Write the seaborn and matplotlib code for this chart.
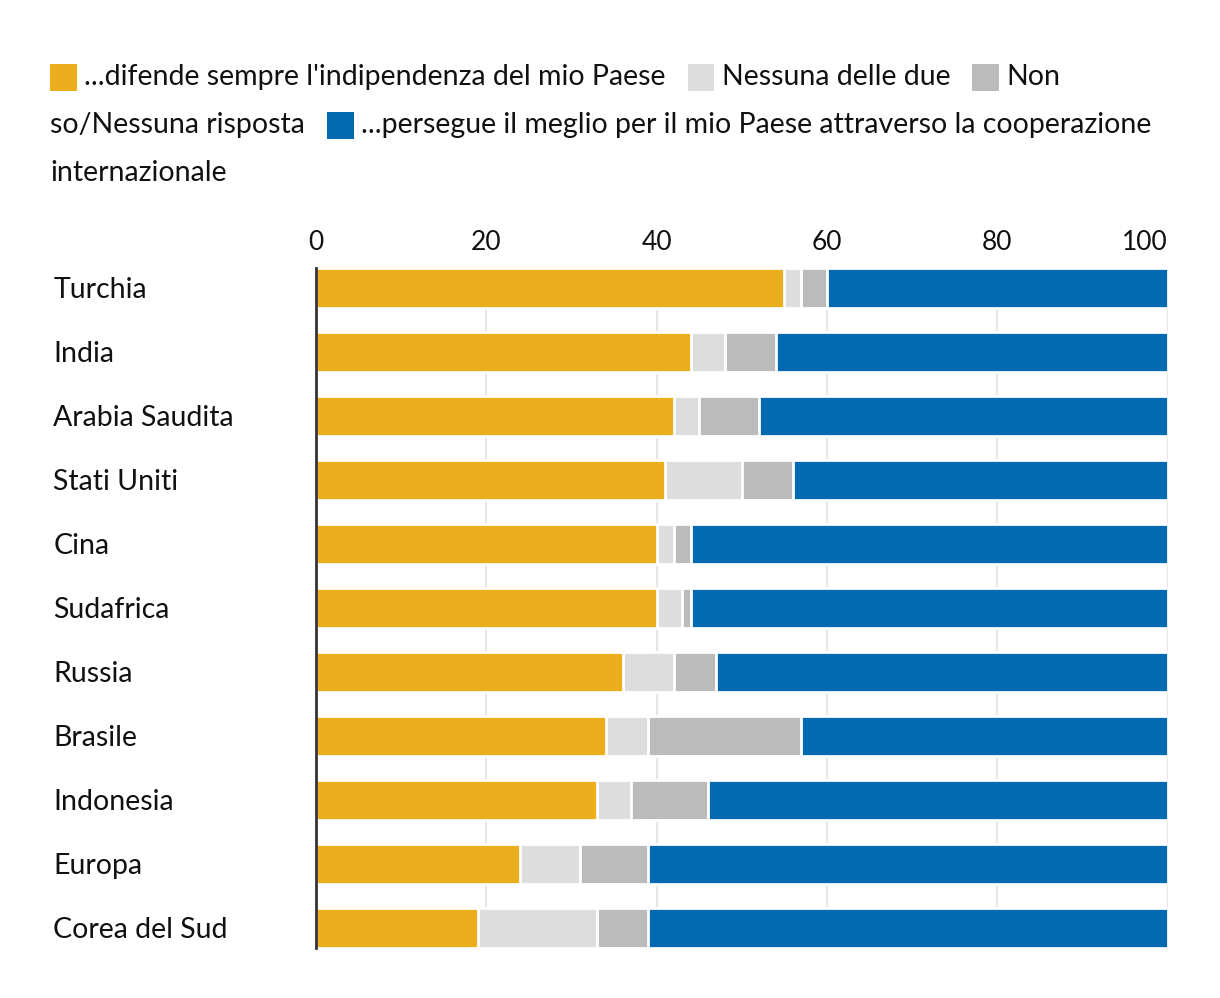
import numpy as np
import pandas as pd
import seaborn as sns
import matplotlib.pyplot as plt
from matplotlib.patches import Rectangle

countries = ["Turchia", "India", "Arabia Saudita", "Stati Uniti", "Cina", "Sudafrica",
             "Russia", "Brasile", "Indonesia", "Europa", "Corea del Sud"]
difende = [55, 44, 42, 41, 40, 40, 36, 34, 33, 24, 19]
nessuna = [2, 4, 3, 9, 2, 3, 6, 5, 4, 7, 14]
non_so = [3, 6, 7, 6, 2, 1, 5, 18, 9, 8, 6]
persegue = [40, 46, 48, 44, 56, 56, 53, 43, 54, 61, 61]

labels = ["...difende sempre l'indipendenza del mio Paese", "Nessuna delle due",
          "Non so/Nessuna risposta",
          "...persegue il meglio per il mio Paese attraverso la cooperazione internazionale"]
colors = ["#EDAE1D", "#DDDDDD", "#BBBBBB", "#0069AF"]

sns.set_style("white")
plt.rcParams['font.family'] = ['Lato', 'DejaVu Sans']

df = pd.DataFrame({"country": countries, "a": difende, "b": nessuna, "c": non_so, "d": persegue})
cum = df[["a", "b", "c", "d"]].cumsum(axis=1)

fig = plt.figure(figsize=(12.2, 9.98), dpi=100)
ax = fig.add_axes([0.259, 0.0501, 0.698, 0.6814])

# stacked bars drawn back to front from the cumulative totals
for col, colr in zip(["d", "c", "b", "a"], colors[::-1]):
    sns.barplot(x=cum[col], y=df["country"], orient="h", color=colr, width=0.625,
                saturation=1, edgecolor="white", linewidth=2, ax=ax, zorder=3)

ax.set_xlim(0, 100)
ax.set_ylim(10.3125, -0.3125)
ax.set_xlabel("")
ax.set_ylabel("")
ax.set_xticks([0, 20, 40, 60, 80, 100])
ax.xaxis.tick_top()
ax.tick_params(axis="x", length=0, pad=9, labelsize=19, labelcolor="#111111")
ax.tick_params(axis="y", length=0, pad=189, labelsize=20.5, labelcolor="#111111")
for t in ax.get_yticklabels():
    t.set_horizontalalignment("left")
ax.get_xticklabels()[-1].set_horizontalalignment("right")
ax.grid(axis="x", color="#E6E6E6", linewidth=1.5, zorder=0)
ax.set_axisbelow(True)
for s in ["top", "right", "bottom"]:
    ax.spines[s].set_visible(False)
ax.spines["left"].set_color("#333333")
ax.spines["left"].set_linewidth(2)
ax.spines["left"].set_zorder(5)

# legend, laid out as wrapped text
fig.canvas.draw()
r = fig.canvas.get_renderer()
W, H = fig.bbox.width, fig.bbox.height
lines = [[(0, labels[0]), (1, labels[1]), (2, "Non")],
         [(None, "so/Nessuna risposta"), (3, "...persegue il meglio per il mio Paese attraverso la cooperazione")],
         [(None, "internazionale")]]
y0 = 77
for row in lines:
    x = 50
    for ci, txt in row:
        if ci is not None:
            fig.patches.append(Rectangle((x / W, 1 - (y0 + 14) / H), 27 / W, 27 / H,
                                         transform=fig.transFigure, facecolor=colors[ci],
                                         edgecolor="none", figure=fig))
            x += 34
        t = fig.text(x / W, 1 - y0 / H, txt, fontsize=20.5, va="center", ha="left",
                     color="#111111")
        x += t.get_window_extent(r).width + 22
    y0 += 48

fig.savefig("out.png", dpi=100)
